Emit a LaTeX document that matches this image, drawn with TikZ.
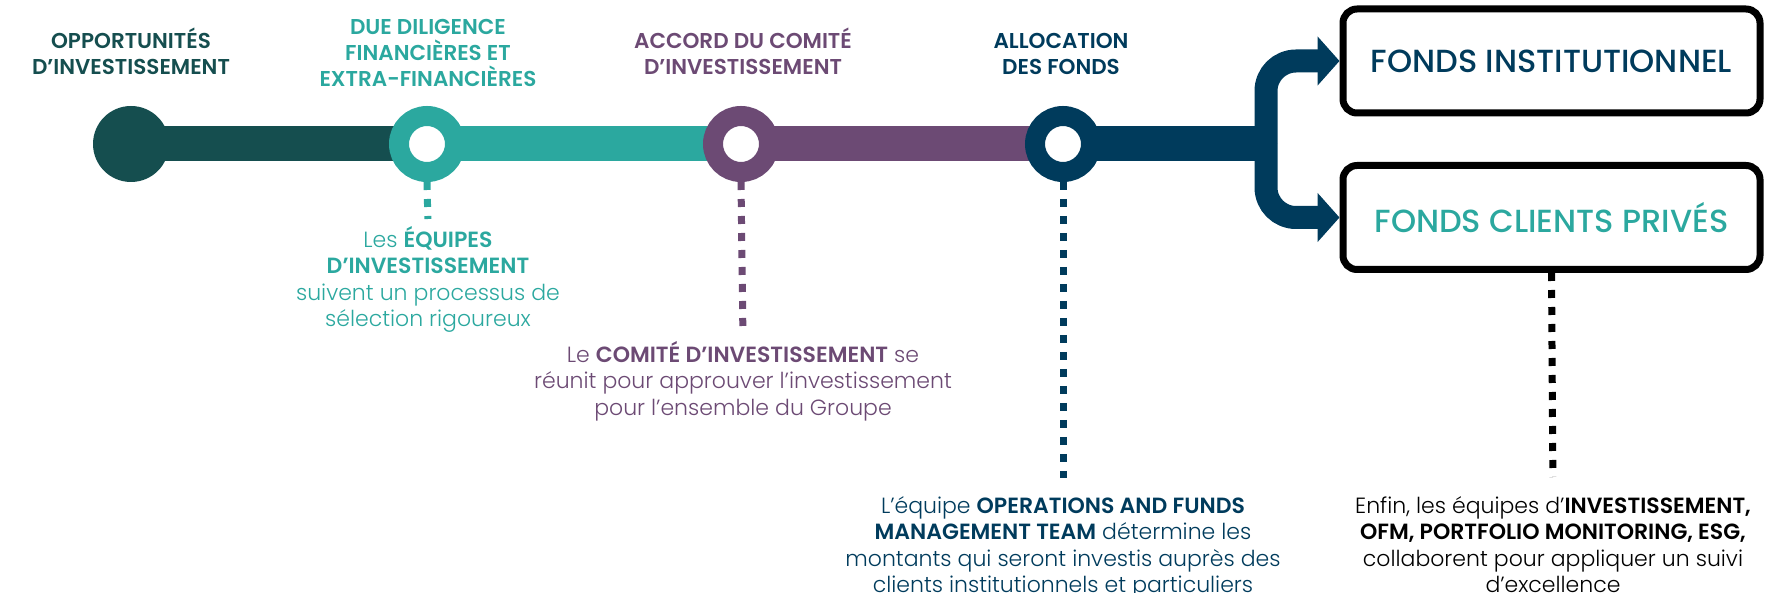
\documentclass[tikz,border=0pt]{standalone}
\usepackage{fontspec}
\setmainfont{Poppins}
\newfontfamily\titlefont{Poppins SemiBold}
\newfontfamily\bodyfont{Poppins Light}[BoldFont={Poppins SemiBold}]
\newfontfamily\boxfont{Poppins Medium}
\usepackage{tikz}
\usetikzlibrary{arrows.meta,backgrounds}
\definecolor{darkteal}{HTML}{154E4F}
\definecolor{tealc}{HTML}{2BA89F}
\definecolor{plum}{HTML}{6C4A74}
\definecolor{navy}{HTML}{003B5C}

\begin{document}
\begin{tikzpicture}[x=1pt,y=-1pt,
	ring/.style={circle,draw=#1,line width=20pt,fill=white,minimum size=56pt,inner sep=0pt},
	startdot/.style={circle,fill=darkteal,minimum size=76pt,inner sep=0pt},
	bar/.style={line width=35pt,#1},
	branch/.style={line width=23pt,navy,rounded corners=30pt,-{Triangle[length=22pt,width=48pt]}},
	dotline/.style={line width=7pt,dash pattern=on 8pt off 9pt,#1},
	steptitle/.style={font=\titlefont\fontsize{21.5}{26}\selectfont,text=#1,align=center,inner sep=0pt,anchor=south},
	stepnote/.style={font=\bodyfont\fontsize{22}{26.5}\selectfont,text=#1,align=center,inner sep=0pt,anchor=north},
	fundbox/.style={draw=black,line width=7pt,rounded corners=14pt,minimum width=417pt,minimum height=104pt,font=\boxfont\fontsize{32}{34}\selectfont,text=#1}]
	\useasboundingbox (0,0) rectangle (1765,593);
	\clip (0,0) rectangle (1765,593);
	% titles
	\node[steptitle=darkteal] (h0) at (131,75) {OPPORTUNITÉS\\D’INVESTISSEMENT};
	\node[steptitle=tealc] (h1) at (428,87) {DUE DILIGENCE\\FINANCIÈRES ET\\EXTRA-FINANCIÈRES};
	\node[steptitle=plum] (h2) at (743,75) {ACCORD DU COMITÉ\\D’INVESTISSEMENT};
	\node[steptitle=navy] (h3) at (1061,75) {ALLOCATION\\DES FONDS};
	% timeline
	\node[startdot] (c0) at (131,144) {};
	\node[ring=tealc] (c1) at (427,144) {};
	\node[ring=plum] (c2) at (741,144) {};
	\node[ring=navy] (c3) at (1063,144) {};
	\coordinate (split) at (1266,144);
	\node[fundbox=navy] (b1) at (1551.5,61) {FONDS INSTITUTIONNEL};
	\node[fundbox=tealc] (b2) at (1551.5,217.5) {FONDS CLIENTS PRIVÉS};
	\begin{pgfonlayer}{background}
		\draw[bar=darkteal] (c0.center) -- (c1.center);
		\draw[bar=tealc] (c1.center) -- (c2.center);
		\draw[bar=plum] (c2.center) -- (c3.center);
		\draw[bar=navy] (c3.center) -- (split);
	\end{pgfonlayer}
	\draw[branch] (split) |- (b1.west);
	\draw[branch] (split) |- (b2.west);
	% notes
	\node[stepnote=tealc] (t1) at (428,226) {Les \textbf{ÉQUIPES}\\\textbf{D’INVESTISSEMENT}\\suivent un processus de\\sélection rigoureux};
	\node[stepnote=plum] (t2) at (743,341) {Le \textbf{COMITÉ D’INVESTISSEMENT} se\\réunit pour approuver l’investissement\\pour l’ensemble du Groupe};
	\node[stepnote=navy] (t3) at (1063,496) {L’équipe \textbf{OPERATIONS AND FUNDS}\\\textbf{MANAGEMENT TEAM} détermine les\\montants qui seront investis auprès des\\clients institutionnels et particuliers};
	\node[stepnote=black] (t4) at (1553,496) {Enfin, les équipes d’\textbf{INVESTISSEMENT,}\\\textbf{OFM, PORTFOLIO MONITORING, ESG,}\\collaborent pour appliquer un suivi\\d’excellence};
	\draw[dotline=tealc,shorten >=7pt] (c1.south) -- (t1.north);
	\draw[dotline=plum,shorten >=9pt] (c2.south) -- (t2.north);
	\draw[dotline=navy,shorten >=18pt] (c3.south) -- (t3.north);
	\draw[dotline=black,shorten >=19pt] (b2.south) -- (t4.north);
\end{tikzpicture}
\end{document}
